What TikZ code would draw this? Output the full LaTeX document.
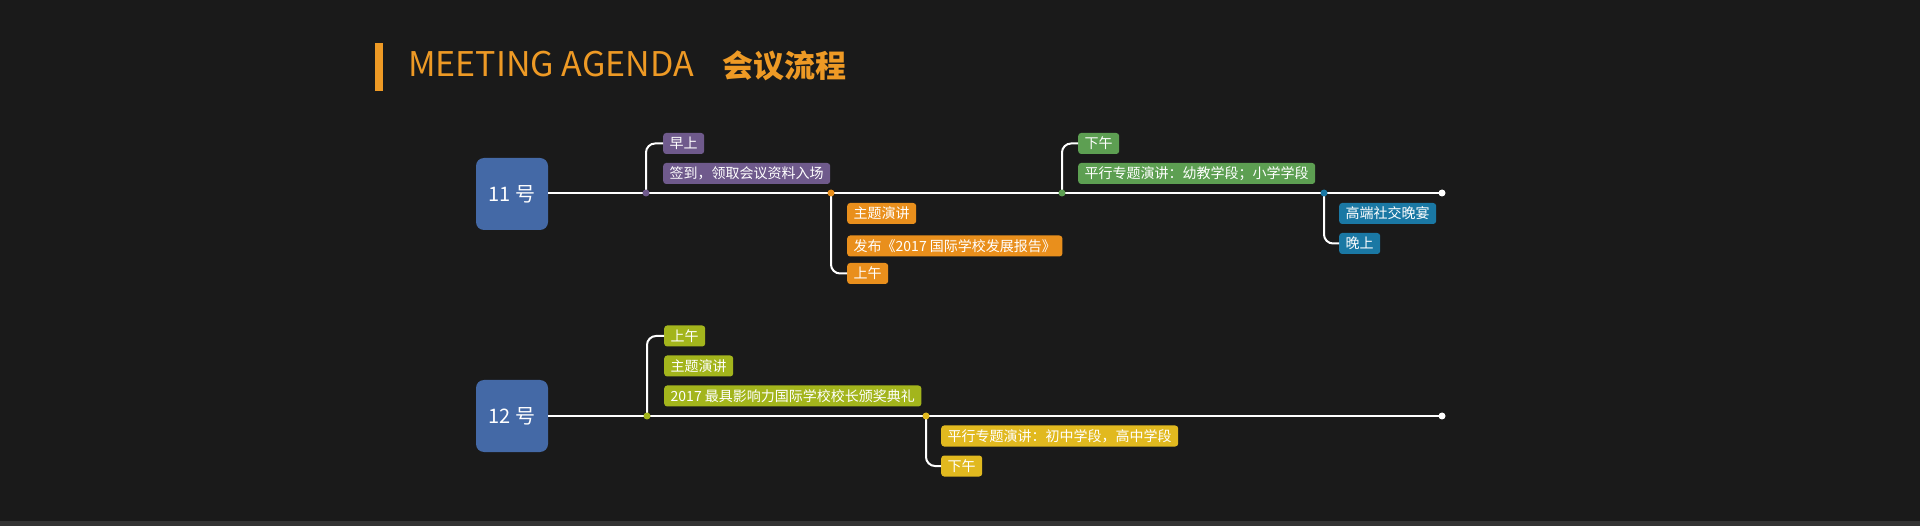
\documentclass[tikz,border=0pt]{standalone}
\usepackage{fontspec}
\setmainfont{Noto Sans CJK SC}
\usepackage{xcolor}
\usetikzlibrary{positioning}
\definecolor{pagebg}{HTML}{1A1A1A}
\definecolor{stripbg}{HTML}{333333}
\definecolor{agendaor}{HTML}{EE9A25}
\definecolor{dayblue}{HTML}{4469A6}
\definecolor{tagpurple}{HTML}{6F5A8C}
\definecolor{tagorange}{HTML}{E98F1C}
\definecolor{taggreen}{HTML}{5D9F52}
\definecolor{tagblue}{HTML}{1A78A4}
\definecolor{taglime}{HTML}{A3B51C}
\definecolor{tagyellow}{HTML}{E1B91F}

\begin{document}
\begin{tikzpicture}[x=1pt, y=-1pt,
    daybox/.style={fill=dayblue, rounded corners=8pt, minimum width=72pt, minimum height=72pt, text=white, font=\fontsize{20}{24}\selectfont},
    tag/.style={rounded corners=3pt, minimum height=21pt, inner xsep=6.5pt, inner ysep=0pt, text=white, anchor=west, font=\fontsize{14}{16}\selectfont},
    spine/.style={draw=white, line width=2pt},
    twig/.style={draw=white, line width=2pt, rounded corners=9pt},
    knot/.style={circle, inner sep=0pt, minimum size=7pt}
]
    \fill[pagebg] (0,0) rectangle (1920,526);
    \fill[stripbg] (0,521) rectangle (1920,526);
    \useasboundingbox (0,0) rectangle (1920,526);

    \fill[agendaor] (375,43) rectangle (383,91);
    \node[anchor=base west, inner sep=0pt, text=agendaor, font=\fontsize{34}{38}\selectfont] (title) at (408,77) {MEETING AGENDA};
    \node[anchor=base west, inner sep=0pt, text=agendaor, font=\fontsize{31}{34}\selectfont\bfseries] (titlecn) at (722,78) {会议流程};

    % day 11
    \node[daybox] (day11) at (512,194) {11 号};
    \node[tag, fill=tagpurple] (m1) at (663,143.5) {早上};
    \node[tag, fill=tagpurple] (m2) at (663,173.5) {签到，领取会议资料入场};
    \node[tag, fill=tagorange] (k1) at (847,213.5) {主题演讲};
    \node[tag, fill=tagorange] (k2) at (847,246) {发布《2017 国际学校发展报告》};
    \node[tag, fill=tagorange] (k3) at (847,273.5) {上午};
    \node[tag, fill=taggreen] (a1) at (1078,143.5) {下午};
    \node[tag, fill=taggreen] (a2) at (1078,173.5) {平行专题演讲：幼教学段；小学学段};
    \node[tag, fill=tagblue] (n1) at (1339,213.5) {高端社交晚宴};
    \node[tag, fill=tagblue] (n2) at (1339,243.5) {晚上};

    \coordinate (b11a) at (646,193);
    \coordinate (b11b) at (831,193);
    \coordinate (b11c) at (1062,193);
    \coordinate (b11d) at (1324,193);
    \coordinate (end11) at (1442,193);
    \draw[spine] (day11.east |- end11) -- (end11);
    \draw[twig] (b11a) |- (m1.west);
    \draw[twig] (b11b) |- (k3.west);
    \draw[twig] (b11c) |- (a1.west);
    \draw[twig] (b11d) |- (n2.west);
    \node[knot, fill=tagpurple] at (b11a) {};
    \node[knot, fill=tagorange] at (b11b) {};
    \node[knot, fill=taggreen] at (b11c) {};
    \node[knot, fill=tagblue] at (b11d) {};
    \node[knot, fill=white] at (end11) {};

    % day 12
    \node[daybox] (day12) at (512,416) {12 号};
    \node[tag, fill=taglime] (p1) at (664,336) {上午};
    \node[tag, fill=taglime] (p2) at (664,366) {主题演讲};
    \node[tag, fill=taglime] (p3) at (664,396) {2017 最具影响力国际学校校长颁奖典礼};
    \node[tag, fill=tagyellow] (q1) at (941,436) {平行专题演讲：初中学段，高中学段};
    \node[tag, fill=tagyellow] (q2) at (941,466) {下午};

    \coordinate (b12a) at (647,416);
    \coordinate (b12b) at (926,416);
    \coordinate (end12) at (1442,416);
    \draw[spine] (day12.east) -- (end12);
    \draw[twig] (b12a) |- (p1.west);
    \draw[twig] (b12b) |- (q2.west);
    \node[knot, fill=taglime] at (b12a) {};
    \node[knot, fill=tagyellow] at (b12b) {};
    \node[knot, fill=white] at (end12) {};
\end{tikzpicture}
\end{document}
